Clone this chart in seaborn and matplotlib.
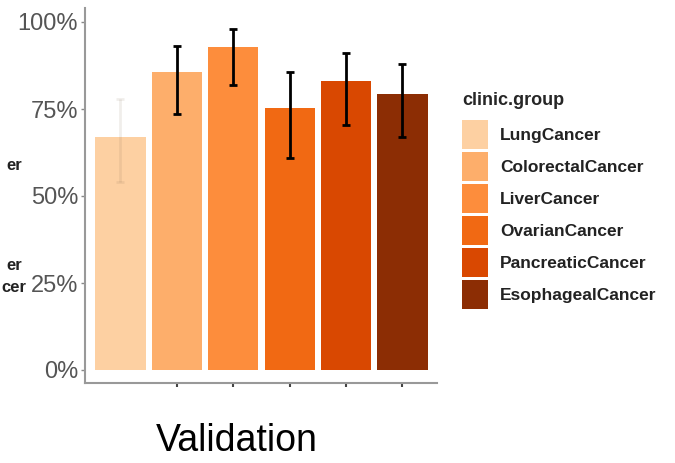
import matplotlib
matplotlib.use("Agg")
import matplotlib.pyplot as plt
import seaborn as sns
import pandas as pd
import numpy as np
from matplotlib.ticker import FuncFormatter

# ---- data ----
groups = ["LungCancer", "ColorectalCancer", "LiverCancer",
          "OvarianCancer", "PancreaticCancer", "EsophagealCancer"]
accuracy = [67.0, 85.6, 92.8, 75.3, 83.0, 79.3]
ci_low = [54.0, 73.6, 82.0, 61.0, 70.4, 67.0]
ci_high = [78.0, 93.0, 98.0, 85.6, 91.0, 88.0]
ytick_vals = [0, 25, 50, 75, 100]
legend_title = "clinic.group"
panel_title = "Validation"
left_fragments = ["er", "er", "cer"]

# ---- style ----
palette = ["#FDD0A2", "#FDAE6B", "#FD8D3C", "#F16913", "#D94801", "#8C2D04"]
err_line_colors = [(0.45, 0.35, 0.25, 0.10), "black", "black", "black", "black", "black"]
err_cap_colors = ["#5a5a5a", "black", "black", "black", "black", "black"]

sns.set_theme(style="white")
plt.rcParams["font.family"] = ["Liberation Sans", "DejaVu Sans"]

W, H = 675, 463
fig = plt.figure(figsize=(W / 100, H / 100), dpi=100)

def fx(px):
    return px / W

def fy(py):
    return 1 - py / H

ax_left, ax_right, ax_top, ax_bottom = 85, 437, 8, 383
ax = fig.add_axes([fx(ax_left), fy(ax_bottom), fx(ax_right - ax_left),
                   (ax_bottom - ax_top) / H])

df = pd.DataFrame({"group": groups, "accuracy": accuracy})
sns.barplot(data=df, x="group", y="accuracy", hue="group", order=groups,
            hue_order=groups, palette=palette, saturation=1, width=0.89,
            errorbar=None, legend=True, ax=ax, linewidth=0)

xpos = np.arange(len(groups))
for i in range(len(groups)):
    lo = accuracy[i] - ci_low[i]
    hi = ci_high[i] - accuracy[i]
    line, caps, bars = ax.errorbar([xpos[i]], [accuracy[i]], yerr=[[lo], [hi]],
                                   fmt="none", ecolor=err_line_colors[i],
                                   elinewidth=2.0, capsize=3.2, capthick=2.0,
                                   zorder=5)
    for c in caps:
        c.set_color(err_cap_colors[i])

# axes limits (0% at y=370px, 100% at y=22px)
scale = (370 - 22) / 100.0
ax.set_ylim(-(ax_bottom - 370) / scale, 100 + (22 - ax_top) / scale)
pitch = 56.4
ax.set_xlim(-(120.5 - ax_left) / pitch, (ax_right - 120.5) / pitch)

ax.set_yticks(ytick_vals)
ax.yaxis.set_major_formatter(FuncFormatter(lambda v, p: f"{int(v)}%"))
ax.set_xticks(xpos[1:])
ax.set_xticklabels([])
ax.set_xlabel("")
ax.set_ylabel("")
ax.tick_params(axis="y", which="major", length=3, width=1, color="#888888",
               labelsize=17, labelcolor="#555555", pad=2, left=True)
ax.tick_params(axis="x", which="major", length=3, width=1.5, color="#444444",
               bottom=True)
for s in ["top", "right"]:
    ax.spines[s].set_visible(False)
for s in ["left", "bottom"]:
    ax.spines[s].set_color("#999999")
    ax.spines[s].set_linewidth(1.5)

# legend
handles, labels = ax.get_legend_handles_labels()
leg = ax.legend(handles, labels, title=legend_title, frameon=False,
                loc="upper left", bbox_to_anchor=(fx(462), fy(92)),
                bbox_transform=fig.transFigure, borderpad=0, borderaxespad=0,
                fontsize=12.5, handlelength=1.5, handleheight=2.2,
                handletextpad=0.7, labelspacing=0.17,
                title_fontproperties={"weight": "bold", "size": 13})
leg._legend_box.align = "left"
leg._legend_box.sep = 8
for t in leg.get_texts():
    t.set_fontweight("bold")
    t.set_color("#222222")

# title below
fig.text(fx(237), fy(441), panel_title, ha="center", va="center",
         fontsize=27, color="black")

# cut-off fragments from the neighbouring panel
for frag, xpx, ypx in zip(left_fragments, [22, 22, 1], [166, 265, 287]):
    fig.text(fx(xpx), fy(ypx), frag, ha="right" if xpx > 10 else "left",
             va="center", fontsize=12, fontweight="bold", color="#222222")

fig.savefig("out.png", dpi=100)
